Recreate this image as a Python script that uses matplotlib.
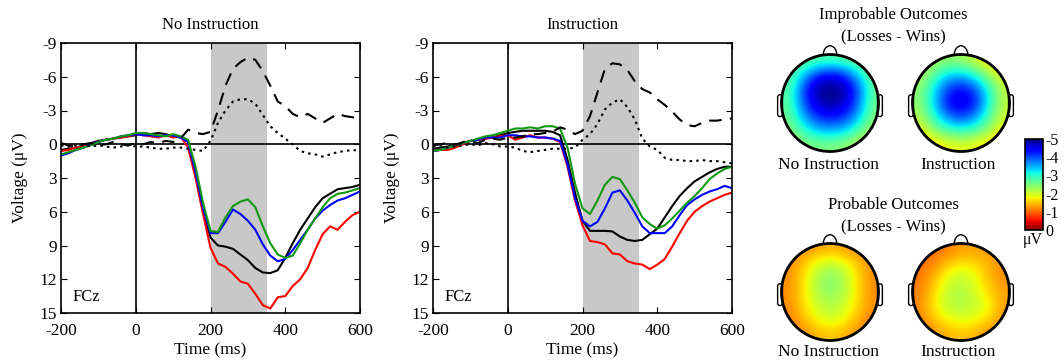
import numpy as np
import matplotlib.pyplot as plt
from matplotlib.patches import Circle, FancyBboxPatch, Arc

plt.rcParams['font.family'] = ['Liberation Serif', 'DejaVu Serif']
plt.rcParams['axes.unicode_minus'] = False

# time axis (ms)
times = np.arange(-200, 601, 20)

# ---- No Instruction (FCz) ----
ni_black = [0.5, 0.4, 0.3, 0.1, -0.1, -0.3, -0.4, -0.5, -0.6, -0.7, -0.8, -1.0, -0.9, -1.0, -0.9, -0.7, -0.6,
            -0.3, 2.5, 6.0, 8.3, 9.0, 9.1, 9.3, 9.8, 10.3, 11.0, 11.4, 11.45, 11.2, 10.1, 8.8, 7.6, 6.6, 5.6,
            4.8, 4.4, 4.0, 3.9, 3.8, 3.6]
ni_red = [0.6, 0.5, 0.3, 0.2, 0.0, -0.2, -0.4, -0.5, -0.6, -0.7, -0.9, -0.8, -0.7, -0.6, -0.8, -0.6, -0.7,
          0.3, 3.0, 6.2, 9.2, 10.6, 10.9, 11.5, 12.2, 12.4, 13.3, 14.3, 14.6, 13.6, 13.5, 12.6, 12.0, 11.0, 9.4,
          8.0, 7.3, 7.6, 6.9, 6.3, 6.0]
ni_blue = [1.0, 0.8, 0.5, 0.3, 0.0, -0.2, -0.4, -0.5, -0.7, -0.8, -0.9, -0.8, -0.8, -0.7, -0.8, -0.8, -0.6,
           -0.2, 2.5, 5.7, 7.9, 7.9, 6.9, 5.8, 6.2, 6.8, 7.6, 8.9, 9.9, 10.4, 10.2, 9.4, 8.5, 7.6, 6.6,
           5.9, 5.4, 5.0, 4.8, 4.5, 4.2]
ni_green = [0.9, 0.7, 0.5, 0.3, 0.1, -0.2, -0.4, -0.5, -0.7, -0.8, -1.0, -1.0, -0.9, -0.8, -0.7, -0.9, -0.7,
            -0.4, 2.0, 5.2, 7.7, 7.8, 6.5, 5.5, 5.1, 4.9, 5.6, 7.3, 8.8, 9.8, 10.1, 9.9, 8.8, 7.6, 6.6,
            5.6, 4.8, 4.4, 4.3, 4.1, 3.9]
ni_dash = [-0.1, 0.1, 0.2, 0.0, -0.1, 0.1, 0.0, -0.2, 0.0, 0.1, -0.1, 0.0, -0.2, -0.1, -0.3, -0.2, -0.5,
           -1.3, -1.0, -0.9, -1.1, -3.0, -5.2, -6.7, -7.3, -7.7, -7.5, -6.5, -5.2, -3.8, -3.4, -2.7, -2.4, -2.7, -2.3,
           -1.9, -2.3, -2.7, -2.5, -2.4, -2.3]
ni_dot = [0.1, 0.2, 0.1, 0.0, 0.2, 0.1, 0.2, 0.3, 0.2, 0.1, 0.2, 0.2, 0.3, 0.4, 0.4, 0.3, 0.3,
          0.4, 0.5, 0.6, -0.3, -1.9, -3.0, -3.8, -4.0, -4.0, -3.6, -2.6, -1.6, -1.0, -0.5, 0.0, 0.6, 0.8, 0.9,
          1.1, 0.9, 0.7, 0.6, 0.5, 0.6]

# ---- Instruction (FCz) ----
in_black = [0.4, 0.3, 0.2, 0.0, -0.1, -0.3, -0.4, -0.5, -0.6, -0.8, -1.0, -1.1, -1.2, -1.2, -1.2, -1.2, -1.1,
            -0.8, 1.4, 4.3, 6.8, 7.7, 7.7, 7.7, 7.75, 8.2, 8.5, 8.6, 8.5, 8.0, 7.5, 6.5, 5.5, 4.6, 3.9,
            3.3, 2.9, 2.5, 2.2, 2.0, 2.0]
in_red = [0.6, 0.5, 0.5, 0.3, 0.0, -0.3, -0.4, -0.5, -0.6, -0.7, -0.8, -0.4, -0.6, -0.8, -0.6, -0.6, -0.5,
          -0.2, 2.0, 5.0, 7.2, 8.6, 8.7, 8.9, 9.7, 9.8, 10.4, 10.6, 10.7, 11.1, 10.7, 10.2, 9.1, 7.9, 6.8,
          6.0, 5.5, 5.1, 4.8, 4.5, 4.3]
in_blue = [0.6, 0.5, 0.3, 0.1, -0.1, -0.3, -0.4, -0.6, -0.6, -0.6, -0.8, -0.8, -0.7, -0.7, -0.6, -0.6, -0.5,
           -0.3, 1.8, 4.8, 6.8, 7.3, 6.9, 5.7, 4.3, 4.1, 5.0, 6.1, 7.3, 7.9, 7.9, 7.9, 7.3, 6.3, 5.4,
           4.9, 4.5, 4.2, 4.0, 3.7, 3.9]
in_green = [0.6, 0.5, 0.3, 0.1, -0.1, -0.3, -0.5, -0.7, -0.8, -1.0, -1.2, -1.4, -1.4, -1.5, -1.4, -1.6, -1.6,
            -1.4, 0.3, 3.5, 5.7, 6.2, 5.0, 3.6, 2.9, 3.1, 4.1, 5.2, 6.5, 7.1, 7.5, 7.2, 6.6, 5.9, 5.2,
            4.6, 3.9, 3.1, 2.6, 2.2, 2.0]
in_dash = [0.1, 0.0, -0.1, 0.1, -0.2, -0.3, -0.1, -0.4, -0.5, -0.4, -0.6, -0.6, -0.7, -0.9, -0.9, -1.0, -1.1,
           -1.5, -1.3, -0.9, -1.2, -2.5, -4.6, -6.7, -7.2, -7.1, -6.6, -5.6, -4.9, -4.6, -4.0, -3.5, -2.9, -2.2, -1.7,
           -1.6, -1.9, -2.1, -2.1, -2.2, -2.3]
in_dot = [0.2, 0.1, 0.3, 0.2, 0.1, 0.0, 0.1, -0.1, 0.0, 0.2, 0.2, 0.3, 0.6, 0.7, 0.6, 0.5, 0.4,
          0.4, 0.4, 0.3, -0.4, -0.9, -1.8, -3.1, -3.7, -4.0, -3.3, -2.2, -0.5, 0.2, 0.5, 1.2, 1.4, 1.4, 1.5,
          1.5, 1.4, 1.5, 1.5, 1.6, 1.7]

panel_titles = ["No Instruction", "Instruction"]
panel_data = [
    (ni_black, ni_red, ni_blue, ni_green, ni_dash, ni_dot),
    (in_black, in_red, in_blue, in_green, in_dash, in_dot),
]
y_ticks = [-9, -6, -3, 0, 3, 6, 9, 12, 15]
x_ticks = [-200, 0, 200, 400, 600]

# ---- topographic maps (Losses - Wins), 7x7 grids, rows top -> bottom ----
topo_improb_noinstr = [
    [-2.6, -2.6, -2.7, -2.8, -2.7, -2.6, -2.5],
    [-2.6, -3.3, -4.2, -4.5, -4.2, -3.3, -2.6],
    [-2.7, -4.0, -4.9, -5.0, -4.9, -4.0, -2.7],
    [-2.7, -3.9, -4.7, -4.9, -4.7, -3.9, -2.6],
    [-2.6, -3.5, -4.2, -4.4, -4.2, -3.5, -2.5],
    [-2.4, -2.9, -3.4, -3.5, -3.4, -2.8, -2.2],
    [-2.2, -2.4, -2.5, -2.5, -2.4, -2.1, -1.9],
]
topo_improb_instr = [
    [-2.0, -2.2, -2.4, -2.3, -2.0, -1.7, -1.5],
    [-2.2, -2.7, -3.3, -3.4, -3.0, -2.3, -1.8],
    [-2.4, -3.2, -4.1, -4.4, -4.0, -3.0, -2.1],
    [-2.4, -3.3, -4.4, -4.7, -4.3, -3.1, -2.1],
    [-2.2, -3.0, -3.8, -4.1, -3.7, -2.8, -2.0],
    [-1.8, -2.4, -2.8, -3.0, -2.8, -2.3, -1.7],
    [-1.4, -1.6, -1.8, -1.9, -1.8, -1.6, -1.4],
]
topo_prob_noinstr = [
    [-1.1, -1.2, -1.3, -1.4, -1.3, -1.2, -1.1],
    [-1.2, -1.5, -1.9, -2.1, -1.9, -1.5, -1.2],
    [-1.2, -1.6, -2.2, -2.5, -2.2, -1.6, -1.2],
    [-1.2, -1.6, -2.2, -2.4, -2.2, -1.6, -1.2],
    [-1.2, -1.6, -2.0, -2.2, -2.0, -1.6, -1.2],
    [-1.1, -1.4, -1.8, -2.0, -1.8, -1.4, -1.1],
    [-1.0, -1.2, -1.4, -1.5, -1.4, -1.2, -1.0],
]
topo_prob_instr = [
    [-1.0, -1.0, -1.1, -1.3, -1.3, -1.3, -1.2],
    [-1.0, -1.2, -1.5, -1.7, -1.6, -1.4, -1.2],
    [-1.1, -1.4, -1.9, -2.1, -1.9, -1.4, -1.2],
    [-1.1, -1.6, -2.1, -2.2, -1.9, -1.6, -1.3],
    [-1.2, -1.7, -2.1, -2.2, -2.1, -1.8, -1.3],
    [-1.1, -1.5, -1.8, -1.9, -1.8, -1.6, -1.2],
    [-1.0, -1.2, -1.4, -1.5, -1.4, -1.2, -1.1],
]
cbar_ticks = [-5, -4, -3, -2, -1, 0]

W, H = 1064, 362
fig = plt.figure(figsize=(W / 100, H / 100), dpi=100)


def px_axes(left, top, width, height):
    return fig.add_axes([left / W, 1 - (top + height) / H, width / W, height / H])


line_colors = ["black", "#ff0000", "#0000ff", "#109910"]

for i, (title, series) in enumerate(zip(panel_titles, panel_data)):
    ax = px_axes(61 + i * 372, 43, 299, 270)
    ax.axvspan(200, 350, color="#c8c8c8", lw=0, zorder=0)
    ax.axhline(0, color="black", lw=1.2, zorder=1)
    ax.axvline(0, color="black", lw=1.2, zorder=1)
    for vals, c in zip(series[:4], line_colors):
        ax.plot(times, vals, color=c, lw=1.5, zorder=2)
    ax.plot(times, series[4], color="black", lw=1.5, dashes=(6, 4), zorder=3)
    ax.plot(times, series[5], color="black", lw=1.5, dashes=(1.2, 2), zorder=3)
    ax.set_xlim(-200, 600)
    ax.set_ylim(15, -9)
    ax.set_xticks(x_ticks)
    ax.set_yticks(y_ticks)
    ax.tick_params(direction="in", top=True, right=True, length=4, labelsize=12.5)
    ax.tick_params(axis="x", pad=7)
    ax.tick_params(axis="y", pad=3)
    for s in ax.spines.values():
        s.set_linewidth(1.2)
    ax.set_title(title, fontsize=12, pad=10)
    ax.set_xlabel("Time (ms)", fontsize=12.5, labelpad=3)
    ax.set_ylabel("Voltage (\u03bcV)", fontsize=12.5, labelpad=8)
    ax.text(-170, 13.6, "FCz", fontsize=12, va="center", ha="left")

# head maps
heads = [
    (830, 103, topo_improb_noinstr),
    (961, 103, topo_improb_instr),
    (830, 292, topo_prob_noinstr),
    (961, 292, topo_prob_instr),
]
r_px = 48.5
half = 62
lim = half / r_px
for cx, cy, grid in heads:
    hax = px_axes(cx - half, cy - half, 2 * half, 2 * half)
    hax.set_xlim(-lim, lim)
    hax.set_ylim(-lim, lim)
    hax.axis("off")
    im = hax.imshow(np.array(grid), cmap="jet", vmin=-5, vmax=0, extent=[-1, 1, -1, 1],
                    interpolation="bicubic", origin="upper", zorder=1)
    clip = Circle((0, 0), 1, transform=hax.transData)
    im.set_clip_path(clip)
    # nose
    hax.add_patch(Arc((0, 0.99), 0.28, 0.38, theta1=0, theta2=180, ec="black", lw=1.0, zorder=2))
    # ears
    for sx in (-1, 1):
        x0 = -1.08 if sx < 0 else 0.98
        hax.add_patch(FancyBboxPatch((x0, -0.28), 0.1, 0.45,
                                     boxstyle="round,pad=0,rounding_size=0.05", fill=False,
                                     ec="black", lw=1.0, zorder=2))
    hax.add_patch(Circle((0, 0), 1, fill=False, ec="black", lw=2.0, zorder=3))

# texts on the right
fig.text(893 / W, 1 - 15 / H, "Improbable Outcomes", ha="center", va="center", fontsize=12)
fig.text(893 / W, 1 - 37 / H, "(Losses - Wins)", ha="center", va="center", fontsize=12)
fig.text(893 / W, 1 - 205 / H, "Probable Outcomes", ha="center", va="center", fontsize=12)
fig.text(893 / W, 1 - 227 / H, "(Losses - Wins)", ha="center", va="center", fontsize=12)
for y in (165, 352):
    fig.text(828 / W, 1 - y / H, "No Instruction", ha="center", va="center", fontsize=12.5)
    fig.text(958 / W, 1 - y / H, "Instruction", ha="center", va="center", fontsize=12.5)

# colorbar
cax = px_axes(1025, 139, 18, 91)
cb = fig.colorbar(im, cax=cax, ticks=cbar_ticks)
cax.invert_yaxis()
cax.tick_params(length=0, labelsize=11.5, pad=2)
cb.outline.set_linewidth(1.2)
fig.text(1033 / W, 1 - 240 / H, "\u03bcV", ha="center", va="center", fontsize=11.5)

fig.savefig("out.png", dpi=100)
